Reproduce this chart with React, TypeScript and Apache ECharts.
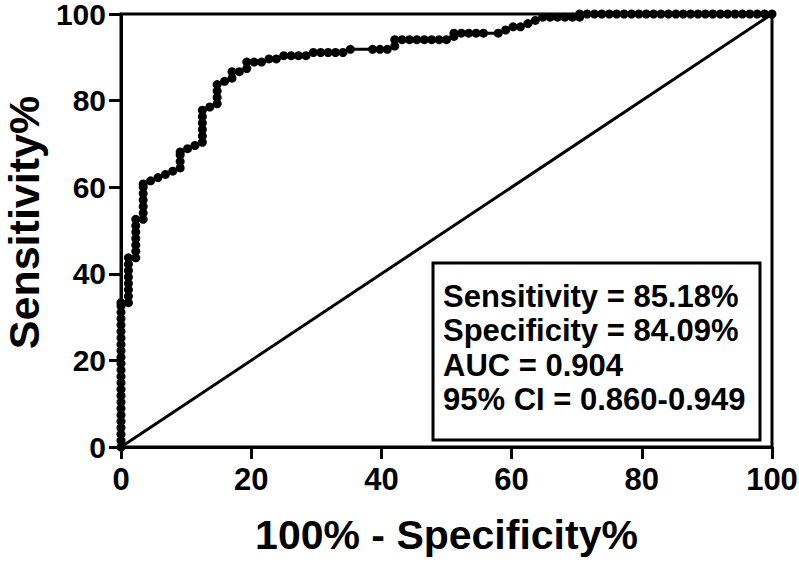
import React, { useEffect, useRef } from "react";
import * as echarts from "echarts";

// ROC curve points: 100% - Specificity% (x) and Sensitivity% (y)
const fprValues: number[] = [
  0, 0, 0, 0, 0, 0, 0, 0, 0, 0, 0, 0, 0, 0, 0, 0, 0, 0, 0, 0, 0, 0, 0, 0,
  1.14, 1.14, 1.14, 1.14, 1.14, 1.14, 1.14, 1.14,
  2.27, 2.27, 2.27, 2.27, 2.27, 2.27, 2.27,
  3.41, 3.41, 3.41, 3.41, 3.41, 3.41, 3.41,
  4.55, 5.68, 6.82, 7.95,
  9.09, 9.09, 9.09, 9.09,
  10.23, 11.36,
  12.5, 12.5, 12.5, 12.5, 12.5, 12.5,
  13.64,
  14.77, 14.77, 14.77, 14.77,
  15.91, 17.05, 17.05, 18.18, 19.32, 19.32,
  20.45, 21.59, 22.73, 23.86, 25, 26.14, 27.27, 28.41,
  29.55, 30.68, 31.82, 32.95, 34.09, 35.23,
  38.64, 39.77, 40.91, 42.05, 42.05,
  43.18, 44.32, 45.45, 46.59, 47.73, 48.86, 50,
  51.14, 51.14, 52.27, 53.41, 54.55, 55.68, 57.95,
  59.09, 60.23, 61.36, 62.5, 63.64, 64.77,
  65.91, 67.05, 68.18, 69.32, 70.45,
  70.45, 71.59, 72.73, 73.86, 75, 76.14, 77.27, 78.41, 79.55, 80.68,
  81.82, 82.95, 84.09, 85.23, 86.36, 87.5, 88.64, 89.77, 90.91, 92.05,
  93.18, 94.32, 95.45, 96.59, 97.73, 98.86, 100,
];

const tprValues: number[] = [
  0, 1.48, 2.96, 4.44, 5.93, 7.41, 8.89, 10.37, 11.85, 13.33, 14.81, 16.3,
  17.78, 19.26, 20.74, 22.22, 23.7, 25.19, 26.67, 28.15, 29.63, 31.11, 32.59, 33.33,
  33.33, 34.81, 36.3, 37.78, 39.26, 40.74, 42.22, 43.7,
  43.7, 45.19, 46.67, 48.15, 49.63, 51.11, 52.59,
  52.59, 54.07, 55.56, 57.04, 58.52, 60, 60.74,
  61.48, 62.22, 62.96, 63.7,
  64.44, 65.93, 67.41, 68.15,
  68.89, 69.63,
  70.37, 71.85, 73.33, 74.81, 76.3, 77.78,
  78.52,
  79.26, 80.74, 82.22, 83.7,
  84.44, 85.19, 86.67, 86.67, 87.41, 88.89,
  88.89, 88.89, 89.63, 89.63, 90.37, 90.37, 90.37, 90.37,
  91.11, 91.11, 91.11, 91.11, 91.11, 91.85,
  91.85, 91.85, 91.85, 92.59, 94.07,
  94.07, 94.07, 94.07, 94.07, 94.07, 94.07, 94.07,
  94.81, 95.56, 95.56, 95.56, 95.56, 95.56, 95.56,
  96.3, 97.04, 97.04, 97.78, 98.52, 99.26,
  99.26, 99.26, 99.26, 99.26, 99.26,
  100, 100, 100, 100, 100, 100, 100, 100, 100, 100,
  100, 100, 100, 100, 100, 100, 100, 100, 100, 100,
  100, 100, 100, 100, 100, 100, 100,
];

const referenceX: number[] = [0, 100];
const referenceY: number[] = [0, 100];

const axisTicks: number[] = [0, 20, 40, 60, 80, 100];

const statLines: string[] = [
  "Sensitivity = 85.18%",
  "Specificity = 84.09%",
  "AUC = 0.904",
  "95% CI = 0.860-0.949",
];

const xTitle = "100% - Specificity%";
const yTitle = "Sensitivity%";

const FONT = "'Liberation Sans', Arial, Helvetica, sans-serif";

export default function App() {
  const ref = useRef<HTMLDivElement>(null);

  useEffect(() => {
    if (!ref.current) return;
    const chart = echarts.init(ref.current, undefined, { renderer: "svg" });

    const rocData = fprValues.map((x, i) => [x, tprValues[i]]);
    const diagData = referenceX.map((x, i) => [x, referenceY[i]]);

    const axisCommon = {
      type: "value" as const,
      min: axisTicks[0],
      max: axisTicks[axisTicks.length - 1],
      interval: axisTicks[1] - axisTicks[0],
      axisLine: { show: true, lineStyle: { color: "#000", width: 3 } },
      axisTick: { show: true, inside: false, length: 12, lineStyle: { color: "#000", width: 3 } },
      splitLine: { show: false },
      nameLocation: "middle" as const,
    };

    const graphicChildren: any[] = [
      {
        type: "rect",
        shape: { x: 433, y: 263, width: 327, height: 177 },
        style: { fill: "#fff", stroke: "#000", lineWidth: 3 },
        z: 10,
      },
      ...statLines.map((t, i) => ({
        type: "text",
        x: 443,
        y: 296 + i * 34.5,
        style: {
          text: t,
          fill: "#000",
          font: `bold 31px ${FONT}`,
          verticalAlign: "middle",
          align: "left",
        },
        z: 11,
      })),
    ];

    chart.setOption({
      animation: false,
      backgroundColor: "#fff",
      grid: {
        left: 121,
        right: 27,
        top: 14,
        bottom: 116,
        containLabel: false,
        outerBoundsMode: "none",
        show: true,
        borderColor: "#000",
        borderWidth: 3,
        backgroundColor: "transparent",
      },
      xAxis: {
        ...axisCommon,
        name: xTitle,
        nameGap: 67,
        nameTextStyle: {
          color: "#000",
          fontSize: 41,
          fontWeight: "bold",
          fontFamily: FONT,
        },
        axisLabel: {
          color: "#000",
          fontSize: 31,
          fontWeight: "bold",
          fontFamily: FONT,
          margin: 17,
        },
      },
      yAxis: {
        ...axisCommon,
        name: yTitle,
        nameGap: 76,
        nameTextStyle: {
          color: "#000",
          fontSize: 43,
          fontWeight: "bold",
          fontFamily: FONT,
          padding: [0, 0, 0, 16],
        },
        axisLabel: {
          color: "#000",
          fontSize: 30,
          lineHeight: 24,
          fontWeight: "bold",
          fontFamily: FONT,
          margin: 15,
        },
      },
      series: [
        {
          type: "line",
          data: diagData,
          showSymbol: false,
          symbol: "none",
          lineStyle: { color: "#000", width: 3 },
          z: 2,
        },
        {
          type: "line",
          data: rocData,
          symbol: "circle",
          symbolSize: 9,
          itemStyle: { color: "#000" },
          lineStyle: { color: "#000", width: 3 },
          z: 3,
        },
      ],
      graphic: [{ type: "group", children: graphicChildren }],
    });

    return () => chart.dispose();
  }, []);

  return <div ref={ref} style={{ width: 799, height: 563, position: "absolute", left: 0, top: 0 }} />;
}
